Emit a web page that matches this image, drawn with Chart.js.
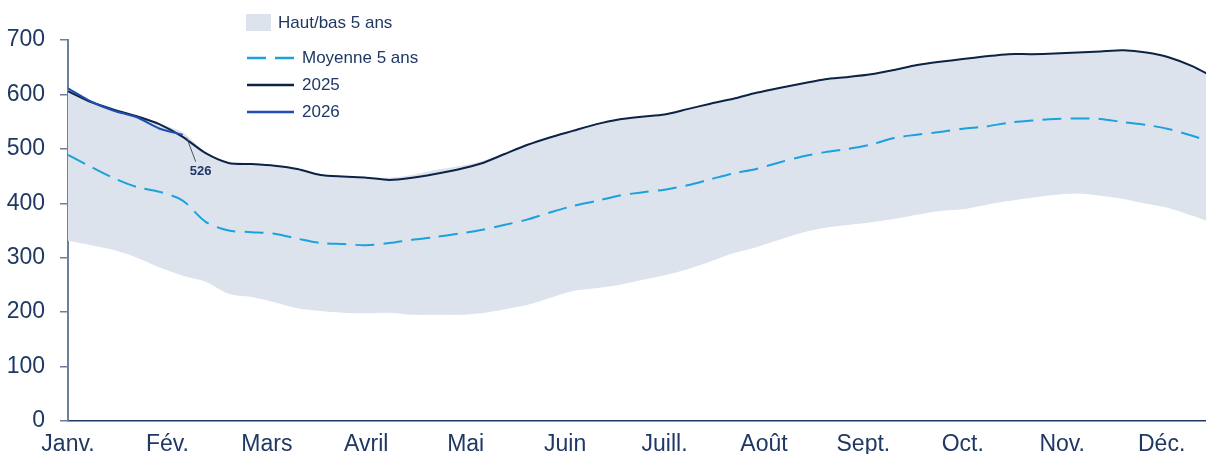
<!DOCTYPE html>
<html lang="fr">
<head>
<meta charset="utf-8">
<title>Stocks hebdomadaires</title>
<script src="https://cdn.jsdelivr.net/npm/chart.js@4/dist/chart.umd.min.js"></script>
<style>
  html, body { margin: 0; padding: 0; background: #fff; }
  #wrap { position: relative; width: 1206px; height: 454px; }
</style>
</head>
<body>
<div id="wrap"><canvas id="stockChart"></canvas></div>
<script>
// mois affichés sur l'axe x (un repère tous les 52/12 semaines)
const months = ["Janv.", "Fév.", "Mars", "Avril", "Mai", "Juin", "Juill.", "Août", "Sept.", "Oct.", "Nov.", "Déc."];
const yTicks = [0, 100, 200, 300, 400, 500, 600, 700];

// semaines 0..50
const weeks = Array.from({ length: 51 }, (_, i) => i);

const high5 = [612, 588, 573, 561, 546, 530, 494, 475, 473, 470, 464, 453, 450, 448, 447, 452, 461, 468, 477, 491,
  508, 522, 534, 546, 555, 560, 564, 574, 584, 593, 604, 613, 621, 629, 633, 638, 646, 655, 661, 666,
  671, 675, 675, 676, 678, 680, 682, 678, 669, 653, 631];
const low5 = [331, 323, 314, 300, 282, 267, 256, 234, 228, 218, 207, 202, 199, 198, 199, 195, 195, 195, 198, 205,
  213, 226, 239, 244, 250, 259, 268, 279, 293, 308, 319, 333, 346, 355, 360, 365, 371, 379, 386, 389,
  397, 404, 410, 415, 418, 414, 408, 399, 391, 377, 362];
const avg5 = [489, 467, 446, 430, 421, 405, 366, 350, 347, 344, 335, 327, 325, 323, 327, 333, 338, 344, 351, 360,
  370, 383, 395, 404, 414, 420, 425, 433, 444, 455, 463, 475, 486, 494, 500, 508, 520, 526, 531, 537,
  541, 548, 552, 555, 556, 555, 549, 544, 536, 524, 510];
const y2025 = [606, 586, 572, 560, 545, 522, 492, 474, 472, 469, 463, 452, 449, 447, 443, 447, 454, 462, 473, 490,
  507, 521, 533, 545, 554, 559, 563, 573, 583, 592, 603, 612, 620, 628, 632, 637, 645, 654, 660, 665,
  670, 674, 674, 675, 677, 679, 681, 677, 668, 652, 630];
const y2026 = [611, 587, 570, 558, 537, 526];

const navy = "#0d2346";
const blue = "#1d4eb0";
const cyan = "#1ba1dc";
const bandColor = "#dde3ed";
const textColor = "#1f3864";
const FONT = "'Liberation Sans', Arial, sans-serif";

const pts = (vals) => vals.map((v, i) => ({ x: weeks[i], y: v }));

// légende dessinée à la main, en colonne
const legendPlugin = {
  id: "sideLegend",
  afterDraw(chart) {
    const ctx = chart.ctx;
    ctx.save();
    ctx.font = "17px " + FONT;
    ctx.textBaseline = "middle";
    ctx.textAlign = "left";

    ctx.fillStyle = bandColor;
    ctx.fillRect(246, 14, 25, 17);
    ctx.fillStyle = textColor;
    ctx.fillText("Haut/bas 5 ans", 278, 23);

    const rows = [
      { label: "Moyenne 5 ans", color: cyan, dash: [19, 9], y: 58 },
      { label: "2025", color: navy, dash: [], y: 85 },
      { label: "2026", color: blue, dash: [], y: 112 },
    ];
    rows.forEach((r) => {
      ctx.beginPath();
      ctx.setLineDash(r.dash);
      ctx.lineWidth = 2.5;
      ctx.strokeStyle = r.color;
      ctx.moveTo(247, r.y);
      ctx.lineTo(294, r.y);
      ctx.stroke();
      ctx.setLineDash([]);
      ctx.fillStyle = textColor;
      ctx.fillText(r.label, 302, r.y);
    });
    ctx.restore();
  },
};

// étiquette de la dernière valeur 2026 avec trait de rappel
const lastValuePlugin = {
  id: "lastValue",
  afterDatasetsDraw(chart) {
    const ctx = chart.ctx;
    const last = y2026.length - 1;
    const px = chart.scales.x.getPixelForValue(weeks[last]);
    const py = chart.scales.y.getPixelForValue(y2026[last]);
    ctx.save();
    ctx.strokeStyle = "#44546a";
    ctx.lineWidth = 1;
    ctx.beginPath();
    ctx.moveTo(px + 4, py + 3);
    ctx.lineTo(px + 13, py + 27);
    ctx.stroke();
    ctx.font = "bold 13px " + FONT;
    ctx.fillStyle = textColor;
    ctx.textAlign = "center";
    ctx.textBaseline = "middle";
    ctx.fillText(String(y2026[last]), px + 18, py + 37);
    ctx.restore();
  },
};

new Chart(document.getElementById("stockChart"), {
  type: "line",
  data: {
    datasets: [
      { label: "2026", data: pts(y2026), borderColor: blue, borderWidth: 2, pointRadius: 0, tension: 0.25, fill: false },
      { label: "2025", data: pts(y2025), borderColor: navy, borderWidth: 2, pointRadius: 0, tension: 0.25, fill: false },
      { label: "Moyenne 5 ans", data: pts(avg5), borderColor: cyan, borderWidth: 2, borderDash: [19, 9], pointRadius: 0, tension: 0.3, fill: false },
      { label: "Haut 5 ans", data: pts(high5), borderWidth: 0, borderColor: "rgba(0,0,0,0)", backgroundColor: bandColor, pointRadius: 0, tension: 0.3, fill: "+1" },
      { label: "Bas 5 ans", data: pts(low5), borderWidth: 0, borderColor: "rgba(0,0,0,0)", pointRadius: 0, tension: 0.3, fill: false },
    ],
  },
  options: {
    responsive: true,
    maintainAspectRatio: false,
    animation: false,
    layout: { padding: { top: 40, right: 0, bottom: 0, left: 0 } },
    plugins: {
      legend: { display: false },
      tooltip: { enabled: false },
      filler: { drawTime: "beforeDatasetsDraw" },
    },
    scales: {
      x: {
        type: "linear",
        min: 0,
        max: 49.6,
        grid: { display: false, drawTicks: false },
        border: { display: true, color: "#1f3864", width: 1.5 },
        afterBuildTicks(scale) {
          scale.ticks = months.map((m, i) => ({ value: i * 52 / 12 }));
        },
        afterFit(scale) { scale.height = 33; },
        ticks: {
          autoSkip: false,
          maxRotation: 0,
          padding: 10,
          color: textColor,
          font: { family: FONT, size: 23 },
          callback: (v, i) => months[i],
        },
      },
      y: {
        min: 0,
        max: 700,
        afterBuildTicks(scale) {
          scale.ticks = yTicks.map((v) => ({ value: v }));
        },
        afterFit(scale) { scale.width = 68; },
        grid: { display: true, drawOnChartArea: false, drawTicks: true, tickLength: 8, color: "#6d7f9c", lineWidth: 1.5 },
        border: { display: true, color: "#6d7f9c", width: 2 },
        ticks: {
          padding: 15,
          color: textColor,
          font: { family: FONT, size: 23 },
        },
      },
    },
  },
  plugins: [legendPlugin, lastValuePlugin],
});
</script>
</body>
</html>
